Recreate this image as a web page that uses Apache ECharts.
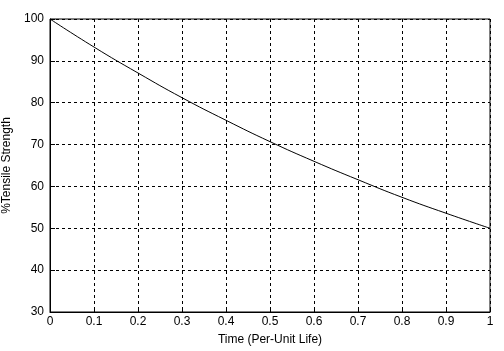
<!DOCTYPE html>
<html><head><meta charset="utf-8">
<script src="https://cdn.jsdelivr.net/npm/echarts@6/dist/echarts.min.js"></script>
<style>html,body{margin:0;padding:0;background:#fff}#c{width:504px;height:351px}</style>
</head><body><div id="c"></div>
<script>
const timeValues = [0, 0.1, 0.2, 0.3, 0.4, 0.5, 0.6, 0.7, 0.8, 0.9, 1.0];
const strengthValues = [100, 93.3, 87.1, 81.2, 75.8, 70.7, 66.0, 61.6, 57.4, 53.6, 50.0];
const xTickLabels = ['0','0.1','0.2','0.3','0.4','0.5','0.6','0.7','0.8','0.9','1'];
const xTitle = 'Time (Per-Unit Life)';
const yTitle = '%Tensile Strength';

const font = 'Liberation Sans, Arial, sans-serif';
const chart = echarts.init(document.getElementById('c'), null, {renderer:'canvas'});
chart.setOption({
  animation:false,
  backgroundColor:'#fff',
  grid:{left:50, top:19, right:14, bottom:39, containLabel:false, outerBoundsMode:'none',
    show:true, borderColor:'#000', borderWidth:1, backgroundColor:'transparent'},
  xAxis:{type:'value', min:0, max:1, interval:0.1,
    name:xTitle, nameLocation:'middle', nameGap:22,
    nameTextStyle:{color:'#000', fontFamily:font, fontSize:12},
    axisLine:{show:true, onZero:false, lineStyle:{color:'#000', width:1}},
    axisTick:{show:true, inside:true, length:5, lineStyle:{color:'#000'}},
    axisLabel:{color:'#000', fontFamily:font, fontSize:12, margin:4,
      formatter:(v)=>xTickLabels[Math.round(v*10)]},
    splitLine:{show:true, lineStyle:{color:'#000', type:[3,3], width:1}}},
  yAxis:{type:'value', min:30, max:100, interval:10,
    name:yTitle, nameLocation:'middle', nameGap:31, nameRotate:90,
    nameTextStyle:{color:'#000', fontFamily:font, fontSize:12},
    axisLine:{show:true, onZero:false, lineStyle:{color:'#000', width:1}},
    axisTick:{show:true, inside:true, length:5, lineStyle:{color:'#000'}},
    axisLabel:{color:'#000', fontFamily:font, fontSize:12, margin:6},
    splitLine:{show:true, lineStyle:{color:'#000', type:[3,3], width:1}}},
  series:[{type:'line', smooth:true, symbol:'none',
    data: timeValues.map((t,i)=>[t, strengthValues[i]]),
    lineStyle:{color:'#000', width:1}}]
});
</script></body></html>
